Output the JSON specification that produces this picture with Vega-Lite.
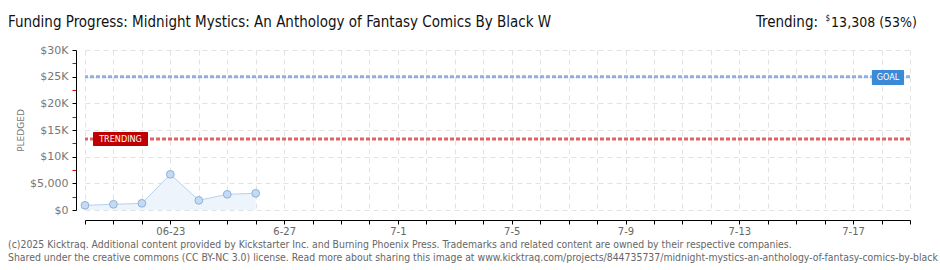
{
  "$schema": "https://vega.github.io/schema/vega-lite/v6.json",
  "autosize": "none",
  "width": 825,
  "height": 160,
  "padding": {"left": 85, "top": 50, "right": 30, "bottom": 60},
  "background": "white",
  "config": {
    "view": {"stroke": null},
    "axis": {"labelFont": "DejaVu Sans", "titleFont": "DejaVu Sans"}
  },
  "datasets": {
    "pledges": [
      {"date": "2025-06-20", "pledged": 880},
      {"date": "2025-06-21", "pledged": 1070},
      {"date": "2025-06-22", "pledged": 1250},
      {"date": "2025-06-23", "pledged": 6690},
      {"date": "2025-06-24", "pledged": 1810},
      {"date": "2025-06-25", "pledged": 2940},
      {"date": "2025-06-26", "pledged": 3130}
    ],
    "one": [{}]
  },
  "resolve": {"axis": {"x": "independent", "y": "independent"}},
  "layer": [
    {
      "data": {"name": "pledges"},
      "mark": {"type": "area", "color": "#edf4fc"},
      "encoding": {
        "x": {
          "field": "date", "type": "temporal",
          "scale": {"type": "utc", "domain": [{"year": 2025, "month": 6, "date": 20, "utc": true}, {"year": 2025, "month": 7, "date": 19, "utc": true}]},
          "axis": {
            "orient": "bottom",
            "tickCount": {"interval": "day", "step": 1},
            "offset": 10,
            "domainColor": "#000", "tickColor": "#000", "tickSize": 4,
            "grid": true, "gridColor": "#e2e2e2", "gridDash": [5, 4],
            "labelExpr": "indexof(['6-23','6-27','7-1','7-5','7-9','7-13','7-17'], (utcmonth(datum.value)+1) + '-' + utcdate(datum.value)) < 0 ? '' : ((utcmonth(datum.value)+1) + '-' + utcdate(datum.value) == '6-23' ? '06-23' : (utcmonth(datum.value)+1) + '-' + utcdate(datum.value))",
            "labelOverlap": false, "labelFlush": false,
            "labelFontSize": 10, "labelColor": "#666", "labelPadding": 2,
            "title": null
          }
        },
        "y": {
          "field": "pledged", "type": "quantitative",
          "scale": {"domain": [0, 30000], "nice": false},
          "axis": {
            "orient": "left",
            "values": [0, 2500, 5000, 7500, 10000, 12500, 15000, 17500, 20000, 22500, 25000, 27500, 30000],
            "offset": 9,
            "domainColor": "#000",
            "tickColor": {"condition": {"test": "datum.value % 5000 != 0", "value": "#e00000"}, "value": "#000"},
            "tickSize": 4,
            "grid": true, "gridColor": "#e2e2e2", "gridDash": [5, 4],
            "gridOpacity": {"condition": {"test": "datum.value % 5000 != 0", "value": 0}, "value": 1},
            "labelExpr": "datum.value % 5000 != 0 ? '' : datum.value == 0 ? '$0' : datum.value < 10000 ? '$' + format(datum.value, ',') : '$' + (datum.value/1000) + 'K'",
            "labelOverlap": false,
            "labelFontSize": 11, "labelColor": "#777", "labelPadding": 4,
            "title": "PLEDGED", "titleFontSize": 9, "titleFontWeight": "normal", "titleColor": "#777",
            "titleX": -56, "titleY": 80, "titleAlign": "center", "titleBaseline": "middle", "titleAngle": -90
          }
        }
      }
    },
    {
      "data": {"name": "pledges"},
      "mark": {"type": "line", "color": "#b6d2f0", "strokeWidth": 1},
      "encoding": {
        "x": {"field": "date", "type": "temporal", "axis": null},
        "y": {"field": "pledged", "type": "quantitative", "axis": null}
      }
    },
    {
      "data": {"name": "pledges"},
      "mark": {"type": "point", "filled": true, "fill": "#c4dbf5", "stroke": "#8fb0d8", "strokeWidth": 1, "size": 60, "opacity": 1},
      "encoding": {
        "x": {"field": "date", "type": "temporal", "axis": null},
        "y": {"field": "pledged", "type": "quantitative", "axis": null}
      }
    },
    {
      "data": {"name": "one"},
      "mark": {"type": "rule", "color": "#8eb0de", "strokeWidth": 3, "strokeDash": [4, 2]},
      "encoding": {"y": {"datum": 25000, "type": "quantitative", "axis": null}}
    },
    {
      "data": {"name": "one"},
      "mark": {"type": "rule", "color": "#e06262", "strokeWidth": 3, "strokeDash": [4, 2]},
      "encoding": {"y": {"datum": 13308, "type": "quantitative", "axis": null}}
    },
    {
      "data": {"name": "one"},
      "mark": {"type": "rect", "color": "#c00000", "cornerRadius": 1},
      "encoding": {
        "x": {"datum": {"year": 2025, "month": 6, "date": 20, "hours": 6, "minutes": 45, "utc": true}, "type": "temporal", "axis": null},
        "x2": {"datum": {"year": 2025, "month": 6, "date": 22, "hours": 5, "minutes": 10, "utc": true}},
        "y": {"datum": 14625, "type": "quantitative", "axis": null},
        "y2": {"datum": 12000}
      }
    },
    {
      "data": {"name": "one"},
      "mark": {"type": "text", "text": "TRENDING", "color": "white", "font": "DejaVu Sans Condensed", "fontSize": 9, "align": "center", "baseline": "middle"},
      "encoding": {
        "x": {"datum": {"year": 2025, "month": 6, "date": 21, "hours": 5, "minutes": 57, "utc": true}, "type": "temporal", "axis": null},
        "y": {"datum": 13308, "type": "quantitative", "axis": null}
      }
    },
    {
      "data": {"name": "one"},
      "mark": {"type": "rect", "color": "#3a8ad8", "cornerRadius": 1},
      "encoding": {
        "x": {"datum": {"year": 2025, "month": 7, "date": 17, "hours": 15, "minutes": 50, "utc": true}, "type": "temporal", "axis": null},
        "x2": {"datum": {"year": 2025, "month": 7, "date": 18, "hours": 19, "minutes": 0, "utc": true}},
        "y": {"datum": 26250, "type": "quantitative", "axis": null},
        "y2": {"datum": 23437}
      }
    },
    {
      "data": {"name": "one"},
      "mark": {"type": "text", "text": "GOAL", "color": "white", "font": "DejaVu Sans Condensed", "fontSize": 9, "align": "center", "baseline": "middle"},
      "encoding": {
        "x": {"datum": {"year": 2025, "month": 7, "date": 18, "hours": 5, "minutes": 30, "utc": true}, "type": "temporal", "axis": null},
        "y": {"datum": 24844, "type": "quantitative", "axis": null}
      }
    },
    {
      "data": {"name": "one"},
      "mark": {"type": "text", "text": "Funding Progress: Midnight Mystics: An Anthology of Fantasy Comics By Black W", "color": "#111", "font": "DejaVu Sans Condensed", "fontSize": 15, "align": "left", "baseline": "alphabetic", "dx": -77, "dy": -23},
      "encoding": {
        "x": {"datum": {"year": 2025, "month": 6, "date": 20, "utc": true}, "type": "temporal", "axis": null},
        "y": {"datum": 30000, "type": "quantitative", "axis": null}
      }
    },
    {
      "data": {"name": "one"},
      "mark": {"type": "text", "text": "13,308 (53%)", "color": "#111", "font": "DejaVu Sans Condensed", "fontSize": 14, "align": "right", "baseline": "alphabetic", "dx": 7, "dy": -23},
      "encoding": {
        "x": {"datum": {"year": 2025, "month": 7, "date": 19, "utc": true}, "type": "temporal", "axis": null},
        "y": {"datum": 30000, "type": "quantitative", "axis": null}
      }
    },
    {
      "data": {"name": "one"},
      "mark": {"type": "text", "text": "$", "color": "#111", "font": "DejaVu Sans Condensed", "fontSize": 8, "align": "right", "baseline": "alphabetic", "dx": -80, "dy": -29},
      "encoding": {
        "x": {"datum": {"year": 2025, "month": 7, "date": 19, "utc": true}, "type": "temporal", "axis": null},
        "y": {"datum": 30000, "type": "quantitative", "axis": null}
      }
    },
    {
      "data": {"name": "one"},
      "mark": {"type": "text", "text": "Trending:", "color": "#111", "font": "DejaVu Sans Condensed", "fontSize": 15, "align": "right", "baseline": "alphabetic", "dx": -92, "dy": -23},
      "encoding": {
        "x": {"datum": {"year": 2025, "month": 7, "date": 19, "utc": true}, "type": "temporal", "axis": null},
        "y": {"datum": 30000, "type": "quantitative", "axis": null}
      }
    },
    {
      "data": {"name": "one"},
      "mark": {"type": "text", "text": ["(c)2025 Kicktraq. Additional content provided by Kickstarter Inc. and Burning Phoenix Press. Trademarks and related content are owned by their respective companies.", "Shared under the creative commons (CC BY-NC 3.0) license. Read more about sharing this image at www.kicktraq.com/projects/844735737/midnight-mystics-an-anthology-of-fantasy-comics-by-black"], "color": "#666", "font": "DejaVu Sans Condensed", "fontSize": 10.4, "align": "left", "baseline": "alphabetic", "lineHeight": 13, "dx": -77, "dy": 38},
      "encoding": {
        "x": {"datum": {"year": 2025, "month": 6, "date": 20, "utc": true}, "type": "temporal", "axis": null},
        "y": {"datum": 0, "type": "quantitative", "axis": null}
      }
    }
  ]
}
